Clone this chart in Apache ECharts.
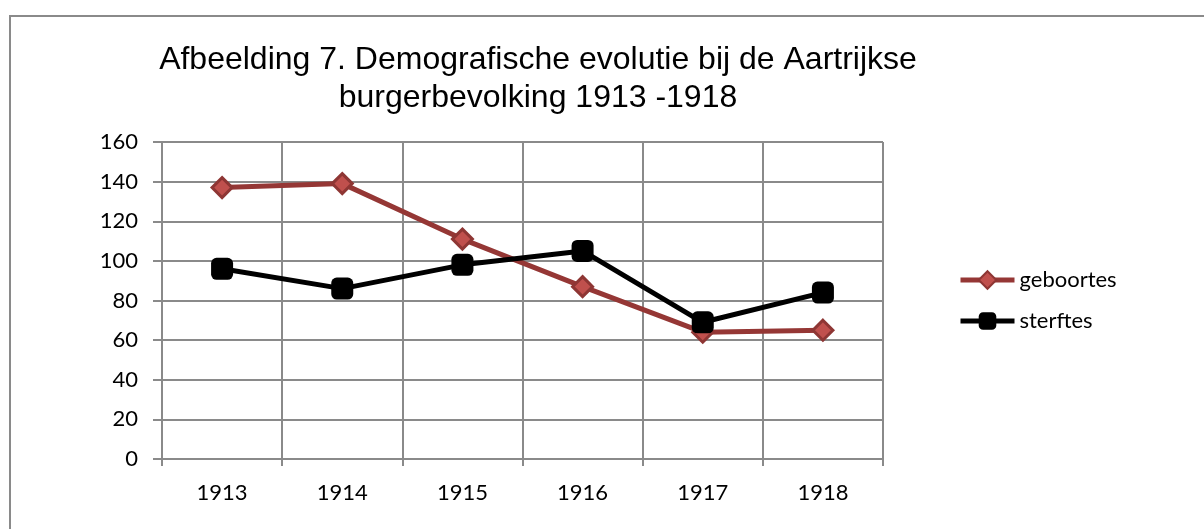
<!DOCTYPE html>
<html>
<head>
    <meta charset="utf-8">
    <title>Demografische evolutie Aartrijke</title>
    <script src="https://cdn.jsdelivr.net/npm/echarts@6/dist/echarts.min.js"></script>
    <style>
        body { margin: 0; background: #fff; }
    </style>
</head>
<body>
    <div id="main" style="width:1204px;height:529px;"></div>

    <script type="text/javascript">
        // gegevens uit de grafiek
        var jaren = ['1913', '1914', '1915', '1916', '1917', '1918'];
        var geboortes = [137, 139, 111, 87, 64, 65];
        var sterftes = [96, 86, 98, 105, 69, 84];

        var grijs = '#8a8a8a';
        var labelFont = 'Lato, "Open Sans", sans-serif';

        var myChart = echarts.init(document.getElementById('main'));

        var option = {
            backgroundColor: '#fff',
            animation: false,
            title: {
                text: 'Afbeelding 7. Demografische evolutie bij de Aartrijkse\nburgerbevolking 1913 -1918',
                left: 533,
                top: 36,
                textAlign: 'center',
                textStyle: {
                    fontFamily: '"Liberation Sans", Arial, sans-serif',
                    fontSize: 32,
                    fontWeight: 'normal',
                    color: '#000',
                    lineHeight: 38
                }
            },
            // kader rond de grafiek
            graphic: [{
                type: 'rect',
                shape: { x: 10, y: 16, width: 1400, height: 1000 },
                style: { fill: 'none', stroke: grijs, lineWidth: 2 },
                silent: true
            }],
            legend: {
                orient: 'vertical',
                left: 953,
                top: 264,
                itemWidth: 54,
                itemHeight: 22,
                itemGap: 19,
                lineStyle: { width: 5 },
                textStyle: {
                    fontFamily: labelFont,
                    fontSize: 22,
                    color: '#000'
                },
                data: ['geboortes', 'sterftes']
            },
            grid: {
                left: 162,
                top: 142,
                right: 321,
                bottom: 70,
                containLabel: false,
                outerBoundsMode: 'none'
            },
            xAxis: {
                type: 'category',
                data: jaren,
                boundaryGap: true,
                axisLine: { lineStyle: { color: grijs, width: 2 } },
                axisTick: { show: true, length: 7, lineStyle: { color: grijs, width: 2 } },
                splitLine: { show: true, lineStyle: { color: grijs, width: 2 } },
                axisLabel: {
                    margin: 23,
                    fontFamily: labelFont,
                    fontSize: 22,
                    color: '#000'
                }
            },
            yAxis: {
                type: 'value',
                min: 0,
                max: 160,
                interval: 20,
                axisLine: { show: true, lineStyle: { color: grijs, width: 2 } },
                axisTick: { show: true, length: 9, lineStyle: { color: grijs, width: 2 } },
                splitLine: { show: true, lineStyle: { color: grijs, width: 2 } },
                axisLabel: {
                    margin: 24,
                    fontFamily: labelFont,
                    fontSize: 22,
                    color: '#000'
                }
            },
            series: [{
                    name: 'geboortes',
                    type: 'line',
                    data: geboortes,
                    symbol: 'diamond',
                    symbolSize: 20,
                    lineStyle: { color: '#953735', width: 5 },
                    itemStyle: { color: '#C0504D', borderColor: '#8E3634', borderWidth: 3 },
                    z: 2
                },
                {
                    name: 'sterftes',
                    type: 'line',
                    data: sterftes,
                    symbol: 'roundRect',
                    symbolSize: 22,
                    lineStyle: { color: '#000', width: 5 },
                    itemStyle: { color: '#000', borderColor: '#000', borderWidth: 0 },
                    z: 3
                }
            ]
        };

        myChart.setOption(option);
    </script>
</body>
</html>
